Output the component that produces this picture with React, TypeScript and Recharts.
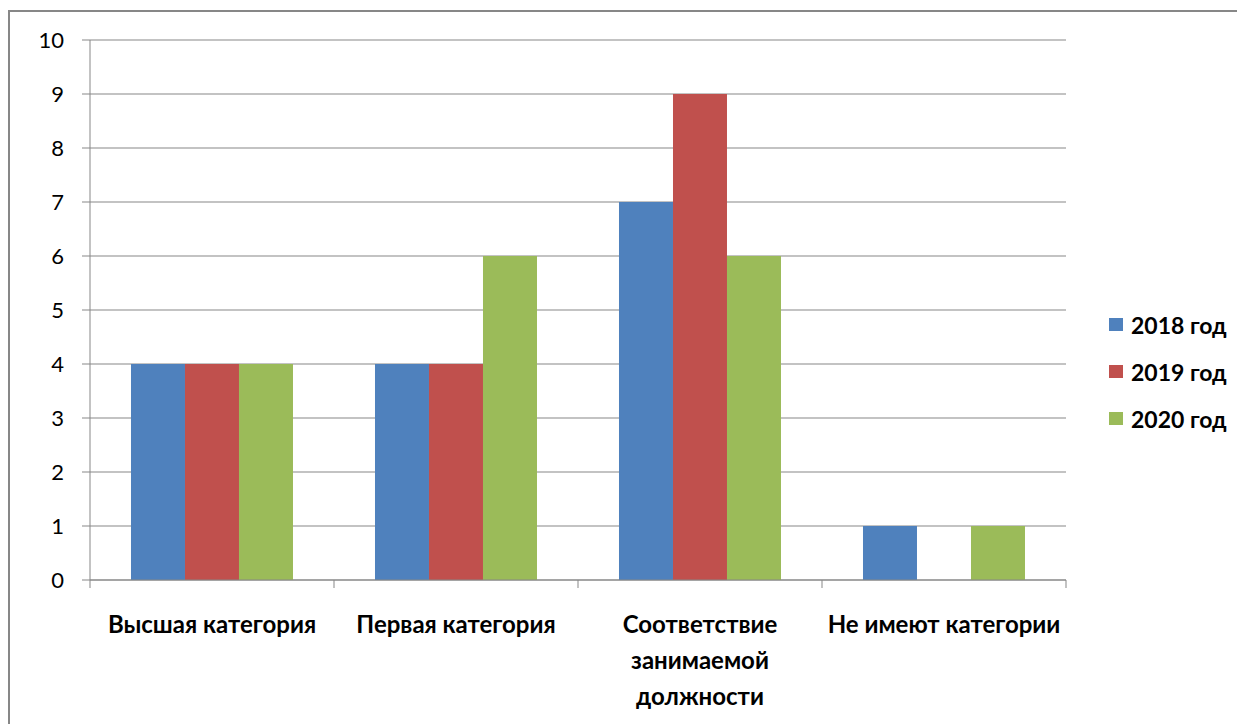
import React from 'react';
import { BarChart, Bar, XAxis, YAxis, CartesianGrid } from 'recharts';

// Categories (line breaks as they wrap under the axis)
const categories = [
  'Высшая категория',
  'Первая категория',
  'Соответствие\nзанимаемой\nдолжности',
  'Не имеют категории',
];
const series2018 = [4, 4, 7, 1];
const series2019 = [4, 4, 9, 0];
const series2020 = [4, 6, 6, 1];
const seriesNames = ['2018 год', '2019 год', '2020 год'];
const seriesColors = ['#4F81BD', '#C0504D', '#9BBB59'];
const yTicks = [0, 1, 2, 3, 4, 5, 6, 7, 8, 9, 10];

const data = categories.map((name, i) => ({
  name,
  y2018: series2018[i],
  y2019: series2019[i],
  y2020: series2020[i],
}));

const WIDTH = 1237;
const HEIGHT = 716;
const Y_AXIS_W = 82;
const MARGIN = { top: 32, right: 179, bottom: 0, left: 0 };
const X_AXIS_H = 144;
const BAND = (WIDTH - Y_AXIS_W - MARGIN.right) / categories.length;
const GRID = '#878787';
const FONT = 'Lato, "Open Sans", sans-serif';

const CategoryTick = (props: any) => {
  const { x, y, payload, index } = props;
  const lines = String(payload.value).split('\n');
  return (
    <g>
      {index === 0 && (
        <line x1={x - BAND / 2} x2={x - BAND / 2} y1={y} y2={y + 8} stroke={GRID} />
      )}
      <line x1={x + BAND / 2} x2={x + BAND / 2} y1={y} y2={y + 8} stroke={GRID} />
      <text
        x={x}
        y={y + 53}
        textAnchor="middle"
        fontFamily={FONT}
        fontWeight={700}
        fontSize={24}
        fill="#000"
      >
        {lines.map((l, i) => (
          <tspan key={i} x={x} dy={i === 0 ? 0 : 36}>
            {l}
          </tspan>
        ))}
      </text>
    </g>
  );
};

const LegendBox = () => (
  <div style={{ position: 'absolute', left: 1101, top: 293, fontFamily: FONT }}>
    {seriesNames.map((n, i) => (
      <div key={n} style={{ display: 'flex', alignItems: 'center', height: 47 }}>
        <span
          style={{
            display: 'inline-block',
            width: 14,
            height: 13,
            background: seriesColors[i],
            marginRight: 8,
          }}
        />
        <span style={{ fontWeight: 700, fontSize: 23, color: '#000' }}>{n}</span>
      </div>
    ))}
  </div>
);

export default function App() {
  return (
    <div style={{ position: 'relative', width: WIDTH, height: HEIGHT, background: '#fff' }}>
      <div
        style={{
          position: 'absolute',
          left: 0,
          top: 2,
          width: WIDTH + 20,
          height: HEIGHT,
          borderLeft: `2px solid ${GRID}`,
          borderTop: `2px solid ${GRID}`,
          boxSizing: 'border-box',
        }}
      />
      <BarChart
        width={WIDTH}
        height={HEIGHT}
        data={data}
        margin={MARGIN}
        barCategoryGap="16.8%"
        barGap={0}
        style={{ position: 'absolute', left: 0, top: 0 }}
      >
        <CartesianGrid vertical={false} stroke={GRID} />
        <XAxis
          dataKey="name"
          height={X_AXIS_H}
          interval={0}
          tickLine={false}
          tickSize={0}
          tickMargin={0}
          axisLine={{ stroke: GRID }}
          tick={<CategoryTick />}
        />
        <YAxis
          width={Y_AXIS_W}
          domain={[0, 10]}
          ticks={yTicks}
          interval={0}
          tickSize={8}
          tickMargin={18}
          axisLine={{ stroke: GRID }}
          tickLine={{ stroke: GRID }}
          tick={{ fill: '#000', fontSize: 22, fontFamily: FONT }}
        />
        <Bar dataKey="y2018" name={seriesNames[0]} fill={seriesColors[0]} isAnimationActive={false} />
        <Bar dataKey="y2019" name={seriesNames[1]} fill={seriesColors[1]} isAnimationActive={false} />
        <Bar dataKey="y2020" name={seriesNames[2]} fill={seriesColors[2]} isAnimationActive={false} />
      </BarChart>
      <LegendBox />
    </div>
  );
}
